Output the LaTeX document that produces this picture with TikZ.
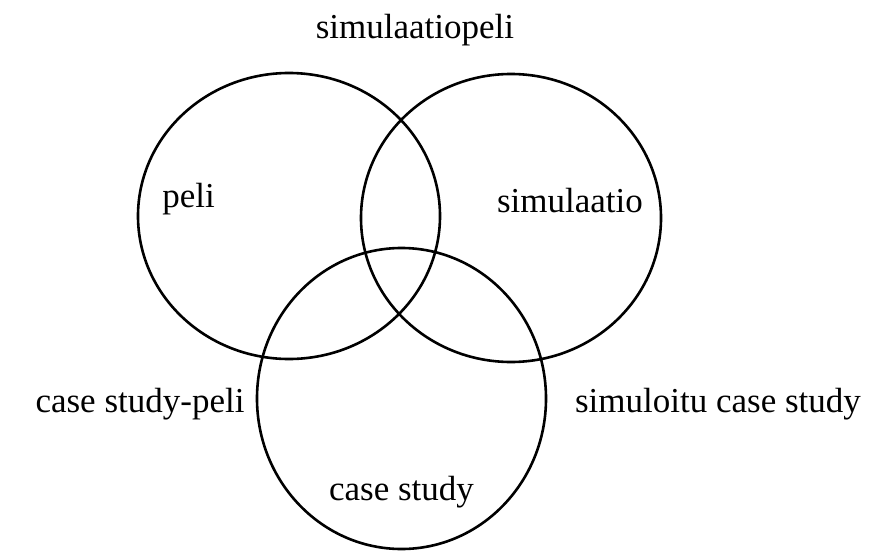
\documentclass[tikz,border=0pt]{standalone}
\usepackage{fontspec}
\setmainfont{Liberation Serif}
\usepackage{tikz}

\tikzset{
  ring/.style={line width=2.6pt},
  lbl/.style={inner sep=0pt,anchor=base,font=\fontsize{35}{42}\selectfont}
}

\begin{document}
\begin{tikzpicture}[x=1pt,y=-1pt]
\useasboundingbox (0,0) rectangle (888,551);

\draw[ring] (289,216) ellipse [x radius=151,y radius=143];
\draw[ring] (511,218) ellipse [x radius=150,y radius=144];
\draw[ring] (401.5,398.5) ellipse [x radius=144.5,y radius=150.5];

\node[lbl] (peli) at (188.5,207) {peli};
\node[lbl] (sim) at (570,212) {simulaatio};
\node[lbl] (case) at (401.5,500) {case study};
\node[lbl] (simpeli) at (415,38) {simulaatiopeli};
\node[lbl] (casepeli) at (140,412) {case study-peli};
\node[lbl] (simcase) at (718,412) {simuloitu case study};
\end{tikzpicture}
\end{document}
